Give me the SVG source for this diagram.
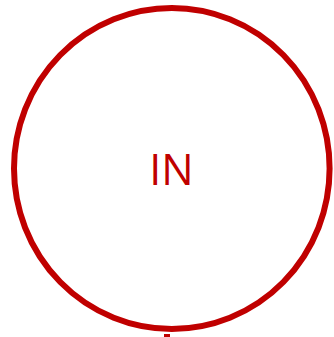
<svg xmlns="http://www.w3.org/2000/svg" width="334" height="337" viewBox="0 0 334 337">
<style>
.node{fill:#ffffff;stroke:#c00000;stroke-width:6}
.label{font-family:"Open Sans","DejaVu Sans",sans-serif;font-size:43px;fill:#c00000;text-anchor:middle}
.conn{stroke:#c00000;stroke-width:6;fill:none}
</style>
<rect width="334" height="337" fill="#ffffff"/>
<g id="connectors">
<line class="conn" x1="167" y1="334" x2="167" y2="337"/>
</g>
<g id="node-in">
<ellipse class="node" cx="171.8" cy="168.5" rx="157.8" ry="160.5"/>
<text class="label" x="171.5" y="185">IN</text>
</g>
</svg>
